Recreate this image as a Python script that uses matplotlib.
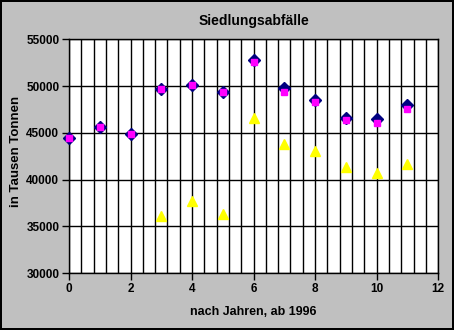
import numpy as np
import matplotlib.pyplot as plt
from matplotlib.ticker import MultipleLocator

# Jahre ab 1996
jahre = [0, 1, 2, 3, 4, 5, 6, 7, 8, 9, 10, 11]
reihe_a = [44400, 45600, 44900, 49700, 50100, 49400, 52800, 49800, 48500, 46600, 46500, 48000]
reihe_b = [44400, 45600, 44900, 49700, 50100, 49400, 52600, 49400, 48300, 46400, 46100, 47600]
jahre_c = [3, 4, 5, 6, 7, 8, 9, 10, 11]
reihe_c = [36100, 37700, 36300, 46600, 43800, 43100, 41400, 40700, 41700]

plt.rcParams['font.family'] = ['Liberation Sans', 'DejaVu Sans']
plt.rcParams['font.weight'] = 'bold'

fig = plt.figure(figsize=(4.54, 3.30), dpi=100)
fig.patch.set_facecolor('#C0C0C0')
fig.patch.set_edgecolor('black')
fig.patch.set_linewidth(1.5)

ax = fig.add_axes([0.152, 0.172, 0.813, 0.709])
ax.set_facecolor('white')

ax.plot(jahre, reihe_a, linestyle='none', marker='D', markersize=6.2,
        color='#000080', zorder=3, clip_on=False)
ax.plot(jahre, reihe_b, linestyle='none', marker='s', markersize=5,
        color='#FF00FF', zorder=4, clip_on=False)
ax.plot(jahre_c, reihe_c, linestyle='none', marker='^', markersize=7.5,
        color='#FFFF00', zorder=3, clip_on=False)

ax.set_xlim(0, 12)
ax.set_ylim(30000, 55000)
ax.xaxis.set_major_locator(MultipleLocator(2))
ax.xaxis.set_minor_locator(MultipleLocator(0.4))
ax.yaxis.set_major_locator(MultipleLocator(5000))

ax.grid(True, which='minor', axis='x', color='black', linewidth=1)
ax.grid(True, which='major', axis='x', color='black', linewidth=1)
ax.grid(True, which='major', axis='y', color='black', linewidth=1)
ax.set_axisbelow(True)

for s in ax.spines.values():
    s.set_color('black')
    s.set_linewidth(1)

ax.tick_params(axis='both', which='major', direction='out', length=5,
               width=1, labelsize=8.5, pad=2)
ax.tick_params(axis='x', which='minor', length=0)
for lbl in ax.get_xticklabels() + ax.get_yticklabels():
    lbl.set_fontweight('bold')

ax.set_title('Siedlungsabfälle', fontsize=10, fontweight='bold', pad=10)
ax.set_xlabel('nach Jahren, ab 1996', fontsize=9, fontweight='bold')
ax.set_ylabel('in Tausen Tonnen', fontsize=9.5, fontweight='bold')
ax.xaxis.set_label_coords(0.5, -0.14)
ax.yaxis.set_label_coords(-0.127, 0.52)

fig.savefig('out.png', dpi=100, facecolor=fig.get_facecolor(),
            edgecolor=fig.get_edgecolor())
